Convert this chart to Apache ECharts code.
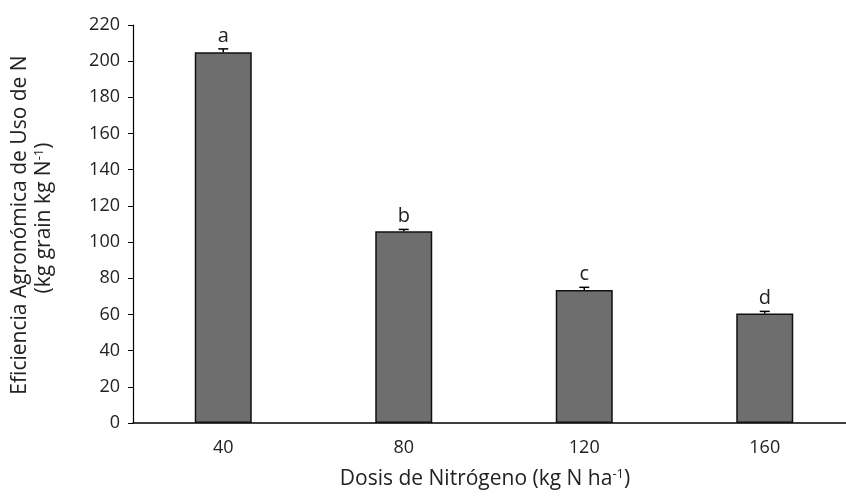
<!DOCTYPE html>
<html><head><meta charset="utf-8">
<script src="https://cdn.jsdelivr.net/npm/echarts@6/dist/echarts.min.js"></script>
<style>html,body{margin:0;padding:0;background:#fff}#c{width:846px;height:500px}</style>
</head><body><div id="c"></div>
<script>
var categories = ['40', '80', '120', '160'];
var values = [205, 106, 73.5, 60.5];
var errors = [1.8, 1.0, 1.5, 1.2];
var letters = ['a', 'b', 'c', 'd'];
var yTicks = [0, 20, 40, 60, 80, 100, 120, 140, 160, 180, 200, 220];

var FONT = 'Open Sans';
var chart = echarts.init(document.getElementById('c'), null, {renderer: 'canvas'});
var errData = categories.map(function (c, i) { return [i, values[i], errors[i], letters[i]]; });

chart.setOption({
  animation: false,
  textStyle: {fontFamily: FONT},
  grid: {left: 133, top: 25, width: 722, height: 398, containLabel: false, outerBoundsMode: 'none'},
  xAxis: {
    type: 'category', data: categories,
    axisLine: {lineStyle: {color: '#000', width: 1.5}},
    axisTick: {show: false},
    axisLabel: {color: '#222', fontSize: 18, fontFamily: FONT, margin: 16}
  },
  yAxis: {
    type: 'value', min: yTicks[0], max: yTicks[yTicks.length - 1], interval: 20,
    axisLine: {show: true, lineStyle: {color: '#000', width: 1.2}},
    axisTick: {show: true, length: 5, lineStyle: {color: '#000'}},
    splitLine: {show: false},
    axisLabel: {color: '#222', fontSize: 18, fontFamily: FONT, margin: 13}
  },
  series: [
    {
      type: 'bar', data: values, barWidth: 57,
      itemStyle: {color: '#6e6e6e', borderColor: '#111', borderWidth: 1.5}
    },
    {
      type: 'custom', data: errData, z: 10,
      renderItem: function (params, api) {
        var x = api.value(0), v = api.value(1), e = api.value(2);
        var top = api.coord([x, v + e]);
        var bot = api.coord([x, v]);
        var cx = top[0];
        return {
          type: 'group',
          children: [
            {type: 'line', shape: {x1: cx, y1: top[1], x2: cx, y2: bot[1]}, style: {stroke: '#000', lineWidth: 1.5}},
            {type: 'line', shape: {x1: cx - 5, y1: top[1], x2: cx + 5, y2: top[1]}, style: {stroke: '#000', lineWidth: 1.5}},
            {type: 'text', style: {text: api.value(3), x: cx, y: top[1] - 3, textAlign: 'center', textVerticalAlign: 'bottom', font: '20px "' + FONT + '"', fill: '#222'}}
          ]
        };
      }
    }
  ],
  graphic: [
    {
      type: 'text', x: 485, y: 479,
      style: {
        text: '{n|Dosis de Nitrógeno (kg N ha}{s|-1}{n|)}',
        rich: {
          n: {fontSize: 21, fontFamily: FONT, fill: '#222'},
          s: {fontSize: 13, fontFamily: FONT, fill: '#222', padding: [0, 0, 9, 0]}
        },
        textAlign: 'center', textVerticalAlign: 'middle'
      }
    },
    {
      type: 'text', x: 20, y: 225, rotation: Math.PI / 2,
      style: {
        text: 'Eficiencia Agronómica de Uso de N',
        font: '21px "' + FONT + '"', fill: '#222', textAlign: 'center', textVerticalAlign: 'middle'
      }
    },
    {
      type: 'text', x: 44, y: 218, rotation: Math.PI / 2,
      style: {
        text: '{n|(kg grain kg N}{s|-1}{n|)}',
        rich: {
          n: {fontSize: 21, fontFamily: FONT, fill: '#222'},
          s: {fontSize: 13, fontFamily: FONT, fill: '#222', padding: [0, 0, 9, 0]}
        },
        textAlign: 'center', textVerticalAlign: 'middle'
      }
    }
  ]
});
</script></body></html>
